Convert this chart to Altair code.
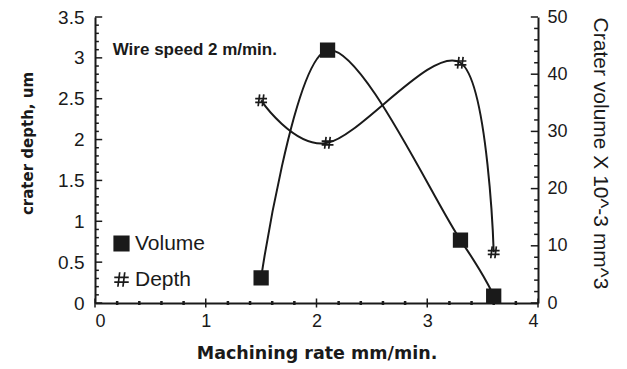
import altair as alt
import pandas as pd

rate = [1.5, 2.1, 3.3, 3.6]
depth = [2.48, 1.96, 2.94, 0.62]
volume = [4.4, 44.2, 11.0, 1.2]

x_major = [0, 1, 2, 3, 4]
x_minor = [0.2, 0.4, 0.6, 0.8, 1.2, 1.4, 1.6, 1.8, 2.2, 2.4, 2.6, 2.8, 3.2, 3.4, 3.6, 3.8]
depth_major = [0, 0.5, 1, 1.5, 2, 2.5, 3, 3.5]
depth_minor = [0.1, 0.2, 0.3, 0.4, 0.6, 0.7, 0.8, 0.9, 1.1, 1.2, 1.3, 1.4, 1.6, 1.7, 1.8, 1.9,
               2.1, 2.2, 2.3, 2.4, 2.6, 2.7, 2.8, 2.9, 3.1, 3.2, 3.3, 3.4]
volume_major = [0, 10, 20, 30, 40, 50]
volume_minor = [2, 4, 6, 8, 12, 14, 16, 18, 22, 24, 26, 28, 32, 34, 36, 38, 42, 44, 46, 48]

HASH = "M-0.25,-1L-0.5,1M0.45,-1L0.2,1M-1,-0.3L1,-0.3M-1,0.35L1,0.35"
SQUARE = "M-1,-1H1V1H-1Z" + "".join(
    f" M-1,{k / 8:.3f}H1" for k in range(-7, 8))
INK = "#1a1a1a"
FONT = "Liberation Sans"

vol_df = pd.DataFrame({"rate": rate, "value": volume, "series": ["Volume"] * 4})
dep_df = pd.DataFrame({"rate": rate, "value": depth, "series": ["Depth"] * 4})
note_df = pd.DataFrame({"x": [0.16], "y": [3.1], "t": ["Wire speed 2 m/min."]})

xscale = alt.Scale(domain=[0, 4], nice=False)
dscale = alt.Scale(domain=[0, 3.5], nice=False)
vscale = alt.Scale(domain=[0, 50], nice=False)

xaxis = alt.Axis(values=x_major, format="d", title="Machining rate mm/min.", grid=False, ticks=False,
                 labelPadding=9, titlePadding=14, titleFont="DejaVu Sans", titleFontSize=17.5,
                 labelOverlap=False)
left_axis = alt.Axis(title="crater depth,  um", grid=False, values=depth_major, format="~g", ticks=False,
                     labelPadding=11, titlePadding=22, titleFont="DejaVu Sans", titleFontSize=15,
                     titleY=126, labelOverlap=False, labelFontSize=19)
right_axis = alt.Axis(title="Crater volume X 10^-3 mm^3", orient="right", grid=False, values=volume_major,
                      ticks=False, labelPadding=9, titlePadding=22, titleFontWeight="normal",
                      titleFontSize=21, titleY=136, labelOverlap=False)
shape_scale = alt.Scale(domain=["Volume", "Depth"], range=[SQUARE, HASH])


def ticks_y(vals, scale, x0, x1):
    df = pd.DataFrame({"v": vals})
    return alt.Chart(df).mark_rule(color=INK, strokeWidth=1.5, opacity=1).encode(
        x=alt.datum(x0, scale=xscale), x2=alt.datum(x1), y=alt.Y("v:Q", scale=scale))


def ticks_x(vals, size, thick):
    df = pd.DataFrame({"v": vals})
    return alt.Chart(df).mark_tick(orient="vertical", size=size, thickness=thick, color=INK,
                                   opacity=1).encode(
        x=alt.X("v:Q", scale=xscale), y=alt.datum(0, scale=dscale))


dep_line = alt.Chart(dep_df).mark_line(interpolate="cardinal", color=INK, strokeWidth=2).encode(
    x=alt.X("rate:Q", scale=xscale, axis=xaxis),
    y=alt.Y("value:Q", scale=dscale, axis=left_axis),
)
dep_pts = alt.Chart(dep_df).mark_point(filled=False, color=INK, strokeWidth=1.7, size=140,
                                       opacity=1).encode(
    x=alt.X("rate:Q", scale=xscale),
    y=alt.Y("value:Q", scale=dscale),
    shape=alt.Shape("series:N", scale=shape_scale, legend=alt.Legend(
        title=None, orient="none", legendX=16, legendY=216, labelFontSize=21, labelFont=FONT,
        symbolSize=210, symbolStrokeColor=INK, symbolStrokeWidth=1.7,
        rowPadding=13, labelColor=INK, labelOffset=3)),
)
note = alt.Chart(note_df).mark_text(align="left", baseline="middle", font=FONT, fontSize=17,
                                    fontWeight="bold", color=INK).encode(
    x=alt.X("x:Q", scale=xscale), y=alt.Y("y:Q", scale=dscale), text="t:N")

left = alt.layer(
    dep_line, dep_pts, note,
    ticks_y(depth_major, dscale, 0, 0.065),
    ticks_y(depth_minor, dscale, 0, 0.035),
    ticks_x(x_major, 9, 1.5),
    ticks_x(x_minor, 4, 2.5),
)

vol_line = alt.Chart(vol_df).mark_line(interpolate="cardinal", color=INK, strokeWidth=2).encode(
    x=alt.X("rate:Q", scale=xscale),
    y=alt.Y("value:Q", scale=vscale, axis=right_axis),
)
vol_pts = alt.Chart(vol_df).mark_point(filled=True, color=INK, stroke=INK, strokeWidth=1.5, size=190,
                                       opacity=1).encode(
    x=alt.X("rate:Q", scale=xscale),
    y=alt.Y("value:Q", scale=vscale),
    shape=alt.Shape("series:N", scale=shape_scale),
)
right = alt.layer(
    vol_line, vol_pts,
    ticks_y(volume_major, vscale, 4, 3.935),
    ticks_y(volume_minor, vscale, 4, 3.965),
)

chart = alt.layer(left, right).resolve_scale(y="independent").properties(
    width=443, height=286,
    autosize=alt.AutoSizeParams(type="none"),
    padding={"left": 95, "top": 17, "right": 89, "bottom": 66},
    background="white",
).configure_axis(
    domainColor=INK, labelColor=INK, titleColor=INK,
    labelFont=FONT, titleFont=FONT, labelFontSize=18,
    titleFontWeight="bold", domainWidth=2,
).configure_view(stroke=None)

chart.save("out.html", embed_options={"renderer": "svg", "actions": False})
